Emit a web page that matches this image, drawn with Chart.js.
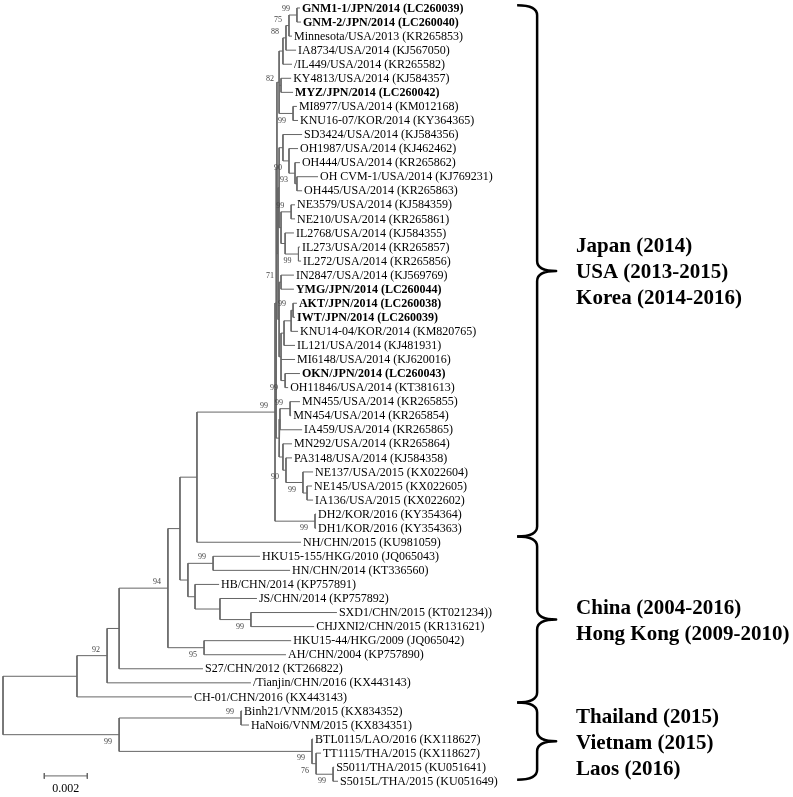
<!DOCTYPE html>
<html>
<head>
<meta charset="utf-8">
<script src="https://cdn.jsdelivr.net/npm/chart.js@4.4.1/dist/chart.umd.min.js"></script>
<style>
  html, body { margin: 0; padding: 0; background: #fff; }
</style>
</head>
<body>
<canvas id="treeChart" width="793" height="797"></canvas>
<script>
'use strict';

// tips, top to bottom
let leafNames = [
  'GNM1-1/JPN/2014 (LC260039)', 'GNM-2/JPN/2014 (LC260040)', 'Minnesota/USA/2013 (KR265853)',
  'IA8734/USA/2014 (KJ567050)', '/IL449/USA/2014 (KR265582)', 'KY4813/USA/2014 (KJ584357)',
  'MYZ/JPN/2014 (LC260042)', 'MI8977/USA/2014 (KM012168)', 'KNU16-07/KOR/2014 (KY364365)',
  'SD3424/USA/2014 (KJ584356)', 'OH1987/USA/2014 (KJ462462)', 'OH444/USA/2014 (KR265862)',
  'OH CVM-1/USA/2014 (KJ769231)', 'OH445/USA/2014 (KR265863)', 'NE3579/USA/2014 (KJ584359)',
  'NE210/USA/2014 (KR265861)', 'IL2768/USA/2014 (KJ584355)', 'IL273/USA/2014 (KR265857)',
  'IL272/USA/2014 (KR265856)', 'IN2847/USA/2014 (KJ569769)', 'YMG/JPN/2014 (LC260044)',
  'AKT/JPN/2014 (LC260038)', 'IWT/JPN/2014 (LC260039)', 'KNU14-04/KOR/2014 (KM820765)',
  'IL121/USA/2014 (KJ481931)', 'MI6148/USA/2014 (KJ620016)', 'OKN/JPN/2014 (LC260043)',
  'OH11846/USA/2014 (KT381613)', 'MN455/USA/2014 (KR265855)', 'MN454/USA/2014 (KR265854)',
  'IA459/USA/2014 (KR265865)', 'MN292/USA/2014 (KR265864)', 'PA3148/USA/2014 (KJ584358)',
  'NE137/USA/2015 (KX022604)', 'NE145/USA/2015 (KX022605)', 'IA136/USA/2015 (KX022602)',
  'DH2/KOR/2016 (KY354364)', 'DH1/KOR/2016 (KY354363)', 'NH/CHN/2015 (KU981059)',
  'HKU15-155/HKG/2010 (JQ065043)', 'HN/CHN/2014 (KT336560)', 'HB/CHN/2014 (KP757891)',
  'JS/CHN/2014 (KP757892)', 'SXD1/CHN/2015 (KT021234))', 'CHJXNI2/CHN/2015 (KR131621)',
  'HKU15-44/HKG/2009 (JQ065042)', 'AH/CHN/2004 (KP757890)', 'S27/CHN/2012 (KT266822)',
  '/Tianjin/CHN/2016 (KX443143)', 'CH-01/CHN/2016 (KX443143)', 'Binh21/VNM/2015 (KX834352)',
  'HaNoi6/VNM/2015 (KX834351)', 'BTL0115/LAO/2016 (KX118627)', 'TT1115/THA/2015 (KX118627)',
  'S5011/THA/2015 (KU051641)', 'S5015L/THA/2015 (KU051649)'
];
let boldLeaves = [0, 1, 6, 20, 21, 22, 26];

// distance of each tip from the root (substitutions/site)
let leafDepth = [
  0.01381, 0.01386, 0.01344, 0.01363, 0.01344, 0.01340, 0.01349, 0.01367, 0.01372,
  0.01391, 0.01372, 0.01381, 0.01465, 0.01391, 0.01358, 0.01358, 0.01353, 0.01381,
  0.01386, 0.01353, 0.01353, 0.01367, 0.01358, 0.01372, 0.01358, 0.01358, 0.01381,
  0.01326, 0.01381, 0.01340, 0.01391, 0.01344, 0.01344, 0.01442, 0.01437, 0.01442,
  0.01456, 0.01456, 0.01386, 0.01195, 0.01335, 0.01005, 0.01181, 0.01553, 0.01447,
  0.01340, 0.01316, 0.00930, 0.01153, 0.00879, 0.01112, 0.01144, 0.01442, 0.01479,
  0.01540, 0.01558
];

// internal nodes (children: tip index or node id), depth, bootstrap
let nodeIds = [
  'a1', 'a2', 'a3', 'a4', 'a5', 'a6', 'b1',
  'c1', 'c2', 'c3', 'c4', 'c5', 'c6', 'c7', 'c8', 'b2',
  'd1', 'd2', 'd3', 'd4', 'd5', 'd6', 'b3',
  'e1', 'e2', 'e3', 'e4', 'e5', 'e6', 'e7',
  'g', 'x', 'r2', 'dh', 'u', 'n197',
  'h1', 'h2', 'h3', 'h4', 'h5', 'n180', 'h6', 'n168', 'n119', 'n107', 'n77',
  'v1', 'v2', 'v3', 'v4', 'v5', 'root'
];
let nodeChildren = [
  [0, 1], ['a1', 2], ['a2', 3], ['a3', 4], [5, 6], [7, 8], ['a4', 'a5', 'a6'],
  [12, 13], [11, 'c1'], [10, 'c2'], [9, 'c3'], [14, 15], [17, 18], [16, 'c6'], ['c5', 'c7'], ['c4', 'c8'],
  [19, 20], [21, 22], ['d2', 23], ['d3', 24], [26, 27], ['d4', 25, 'd5'], ['d1', 'd6'],
  [28, 29], ['e1', 30], [34, 35], [33, 'e3'], [32, 'e4'], [31, 'e5'], ['e2', 'e6'],
  ['b2', 'b3'], ['b1', 'g'], ['x', 'e7'], [36, 37], ['r2', 'dh'], ['u', 38],
  [39, 40], [43, 44], [42, 'h2'], [41, 'h3'], ['h1', 'h4'], ['n197', 'h5'], [45, 46],
  ['n180', 'h6'], ['n168', 47], ['n119', 48], ['n107', 49],
  [50, 51], [54, 55], [53, 'v2'], [52, 'v3'], ['v1', 'v4'], ['n77', 'v5']
];
let nodeDepth = [
  0.01367, 0.01330, 0.01316, 0.01302, 0.01293, 0.01349, 0.01284,
  0.01367, 0.01358, 0.01330, 0.01302, 0.01340, 0.01374, 0.01312, 0.01293, 0.01284,
  0.01293, 0.01349, 0.01340, 0.01307, 0.01312, 0.01293, 0.01284,
  0.01335, 0.01288, 0.01414, 0.01395, 0.01316, 0.01302, 0.01284,
  0.01279, 0.01274, 0.01270, 0.01451, 0.01265, 0.00902,
  0.00977, 0.01153, 0.01009, 0.00893, 0.00860, 0.00823, 0.00935, 0.00767, 0.00540, 0.00484, 0.00344,
  0.01107, 0.01535, 0.01456, 0.01437, 0.00540, 0
];
let nodeSupport = [
  99, 75, 88, null, 82, 99, null,
  null, 93, 90, null, 99, 99, null, null, null,
  71, 99, null, null, 99, null, null,
  99, null, null, 99, 90, null, null,
  null, null, null, 99, 99, null,
  99, 99, null, null, null, null, 95, 94, null, 92, null,
  99, 99, 76, 99, 99, null
];

// clade brackets (in tip-row units) and their captions
let bracketEdges = [-0.2, 37.6, 49.4, 54.9];
let bracketText = [
  ['Japan (2014)', 'USA (2013-2015)', 'Korea (2014-2016)'],
  ['China (2004-2016)', 'Hong Kong (2009-2010)'],
  ['Thailand (2015)', 'Vietnam (2015)', 'Laos (2016)']
];
let bracketX = 0.02484;
let bracketTextX = 0.02665;

let scaleBarStart = 0.00192;
let scaleBarLength = 0.002;
let scaleBarRow = 54.62;

let lineColor = '#666666';

let nodeIndex = {};
nodeIds.forEach((id, i) => { nodeIndex[id] = i; });

let posCache = {};
function posOf (ref) {
  if (typeof ref === 'number') return { x: leafDepth[ref], y: ref };
  if (posCache[ref]) return posCache[ref];
  let i = nodeIndex[ref];
  let kids = nodeChildren[i].map(posOf);
  let p = { x: nodeDepth[i], y: (kids[0].y + kids[kids.length - 1].y) / 2 };
  posCache[ref] = p;
  return p;
}

function branch (points) {
  return {
    data: points,
    showLine: true,
    borderColor: lineColor,
    borderWidth: 1,
    pointRadius: 0,
    pointHoverRadius: 0,
    tension: 0,
    fill: false
  };
}

let datasets = [];
nodeIds.forEach((id, i) => {
  let p = posOf(id);
  let kids = nodeChildren[i].map(posOf);
  let first = kids[0];
  let last = kids[kids.length - 1];
  datasets.push(branch([first, { x: p.x, y: first.y }, { x: p.x, y: last.y }, last]));
  kids.slice(1, -1).forEach(k => {
    datasets.push(branch([{ x: p.x, y: k.y }, k]));
  });
});

// scale bar
datasets.push(branch([
  { x: scaleBarStart, y: scaleBarRow }, { x: scaleBarStart + scaleBarLength, y: scaleBarRow }
]));
datasets.push(branch([
  { x: scaleBarStart, y: scaleBarRow - 0.2 }, { x: scaleBarStart, y: scaleBarRow + 0.2 }
]));
datasets.push(branch([
  { x: scaleBarStart + scaleBarLength, y: scaleBarRow - 0.2 },
  { x: scaleBarStart + scaleBarLength, y: scaleBarRow + 0.2 }
]));

// parent lookup for bootstrap placement
let parentOf = {};
nodeChildren.forEach((kids, i) => {
  kids.forEach((k, j) => {
    if (typeof k === 'string') parentOf[k] = { lastChild: j === kids.length - 1 };
  });
});

let treeText = {
  id: 'treeText',
  afterDatasetsDraw (chart) {
    let c = chart.ctx;
    let xs = chart.scales.x;
    let ys = chart.scales.y;
    c.save();

    // tip labels
    c.textBaseline = 'middle';
    c.textAlign = 'left';
    c.fillStyle = '#000';
    leafNames.forEach((name, i) => {
      let bold = boldLeaves.indexOf(i) >= 0;
      c.font = (bold ? 'bold ' : '') + '12px "Liberation Serif"';
      c.fillText(name, xs.getPixelForValue(leafDepth[i]) + 2, ys.getPixelForValue(i) + 0.5);
    });

    // bootstrap values
    c.font = '8px "Liberation Serif"';
    c.fillStyle = '#444';
    c.textAlign = 'right';
    nodeIds.forEach((id, i) => {
      if (nodeSupport[i] == null) return;
      let p = posOf(id);
      let below = parentOf[id] && parentOf[id].lastChild;
      let py = ys.getPixelForValue(p.y) + (below ? 7 : -6);
      c.fillText(String(nodeSupport[i]), xs.getPixelForValue(p.x) - 7, py);
    });

    // scale bar caption
    c.font = '12px "Liberation Serif"';
    c.fillStyle = '#000';
    c.textAlign = 'center';
    c.fillText(scaleBarLength.toFixed(3),
      xs.getPixelForValue(scaleBarStart + scaleBarLength / 2),
      ys.getPixelForValue(scaleBarRow) + 13);

    // brackets
    let bx = xs.getPixelForValue(bracketX);
    let tx = xs.getPixelForValue(bracketTextX);
    c.strokeStyle = '#000';
    c.lineWidth = 2.5;
    c.lineJoin = 'round';
    for (let k = 0; k < bracketText.length; k++) {
      let top = ys.getPixelForValue(bracketEdges[k]);
      let bot = ys.getPixelForValue(bracketEdges[k + 1]);
      let mid = (top + bot) / 2;
      c.beginPath();
      c.moveTo(bx - 20, top);
      c.quadraticCurveTo(bx, top, bx, top + 10);
      c.lineTo(bx, mid - 10);
      c.quadraticCurveTo(bx, mid, bx + 19, mid);
      c.quadraticCurveTo(bx, mid, bx, mid + 10);
      c.lineTo(bx, bot - 10);
      c.quadraticCurveTo(bx, bot, bx - 20, bot);
      c.stroke();

      c.font = 'bold 21px "Liberation Serif"';
      c.textAlign = 'left';
      c.textBaseline = 'middle';
      let lines = bracketText[k];
      lines.forEach((t, j) => {
        c.fillText(t, tx, mid + (j - (lines.length - 1) / 2) * 26 + 2);
      });
    }
    c.restore();
  }
};

let chart = new Chart(document.getElementById('treeChart').getContext('2d'), {
  type: 'scatter',
  data: { datasets: datasets },
  options: {
    responsive: false,
    animation: false,
    devicePixelRatio: 1,
    layout: { padding: 0 },
    events: [],
    plugins: { legend: { display: false }, tooltip: { enabled: false } },
    scales: {
      x: { type: 'linear', min: -0.00014, max: 0.03674, display: false },
      y: { type: 'linear', min: -0.569, max: 56.12, reverse: true, display: false }
    }
  },
  plugins: [treeText]
});
</script>
</body>
</html>
